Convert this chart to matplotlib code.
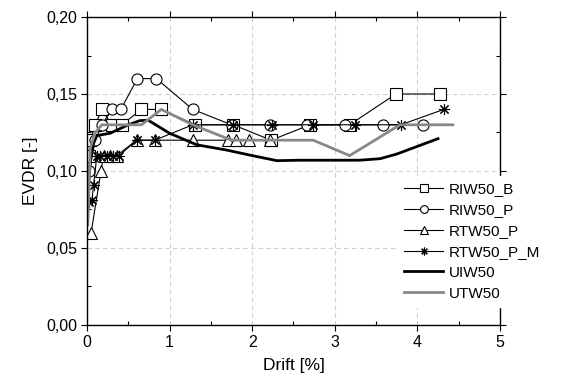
import matplotlib
matplotlib.use("Agg")
import matplotlib.pyplot as plt
from matplotlib.ticker import MultipleLocator, FuncFormatter

plt.rcParams['font.family'] = ['Liberation Sans', 'DejaVu Sans']

# Data
riw50_b_x = [0.02, 0.04, 0.10, 0.18, 0.30, 0.42, 0.66, 0.90, 1.31, 1.77, 2.23, 2.70, 3.18, 3.74, 4.27]
riw50_b_y = [0.11, 0.12, 0.13, 0.14, 0.13, 0.13, 0.14, 0.14, 0.13, 0.13, 0.12, 0.13, 0.13, 0.15, 0.15]

riw50_p_x = [0.03, 0.10, 0.18, 0.30, 0.41, 0.61, 0.84, 1.28, 1.75, 2.22, 2.66, 3.12, 3.58, 4.07]
riw50_p_y = [0.10, 0.12, 0.13, 0.14, 0.14, 0.16, 0.16, 0.14, 0.13, 0.13, 0.13, 0.13, 0.13, 0.13]

rtw50_p_x = [0.05, 0.17, 0.20, 0.28, 0.36, 0.60, 0.82, 1.28, 1.71, 1.80, 1.96, 2.22]
rtw50_p_y = [0.06, 0.10, 0.11, 0.11, 0.11, 0.12, 0.12, 0.12, 0.12, 0.12, 0.12, 0.12]

rtw50_pm_x = [0.03, 0.06, 0.08, 0.12, 0.16, 0.24, 0.32, 0.39, 0.60, 0.82, 1.28, 1.77, 2.24, 2.74, 3.24, 3.80, 4.32]
rtw50_pm_y = [0.08, 0.081, 0.091, 0.11, 0.11, 0.11, 0.11, 0.11, 0.12, 0.12, 0.13, 0.13, 0.13, 0.13, 0.13, 0.13, 0.14]

uiw50_x = [0.01, 0.05, 0.08, 0.12, 0.28, 0.50, 0.64, 0.74, 1.00, 1.33, 1.69, 2.00, 2.30, 2.58, 3.00, 3.30, 3.55, 3.75, 4.00, 4.25]
uiw50_y = [0.085, 0.112, 0.118, 0.123, 0.1245, 0.130, 0.1327, 0.133, 0.1245, 0.117, 0.1136, 0.110, 0.1067, 0.107, 0.107, 0.107, 0.108, 0.111, 0.116, 0.121]

utw50_x = [0.01, 0.04, 0.10, 0.18, 0.66, 0.90, 1.28, 1.75, 2.30, 2.74, 3.18, 3.79, 4.43]
utw50_y = [0.065, 0.115, 0.125, 0.13, 0.13, 0.14, 0.13, 0.12, 0.12, 0.12, 0.11, 0.13, 0.13]

x_ticks = [0, 1, 2, 3, 4, 5]
y_ticks = [0.00, 0.05, 0.10, 0.15, 0.20]

fig = plt.figure(figsize=(5.63, 3.9), dpi=100)
ax = fig.add_axes([0.1545, 0.1667, 0.7335, 0.7897])

ast = (8, 2, 0)
mk = dict(color='black', lw=0.8, markersize=8, markerfacecolor='white',
          markeredgecolor='black', markeredgewidth=0.8)
ax.plot(riw50_b_x, riw50_b_y, marker='s', label='RIW50_B', **mk)
ax.plot(riw50_p_x, riw50_p_y, marker='o', label='RIW50_P', **mk)
ax.plot(rtw50_p_x, rtw50_p_y, marker='^', label='RTW50_P', **mk)
ax.plot(rtw50_pm_x, rtw50_pm_y, marker=ast, label='RTW50_P_M', **mk)
ax.plot(uiw50_x, uiw50_y, color='black', lw=2, label='UIW50')
ax.plot(utw50_x, utw50_y, color='#888888', lw=2, label='UTW50')

ax.set_xlim(0, 5)
ax.set_ylim(0, 0.20)
ax.set_xticks(x_ticks)
ax.set_yticks(y_ticks)
ax.xaxis.set_minor_locator(MultipleLocator(0.5))
ax.yaxis.set_minor_locator(MultipleLocator(0.025))
ax.yaxis.set_major_formatter(FuncFormatter(lambda v, p: f"{v:.2f}".replace('.', ',')))
ax.tick_params(which='major', direction='out', length=4, labelsize=11.5, width=0.8, pad=3)
ax.tick_params(which='minor', direction='in', length=3, width=0.8)
ax.tick_params(which='both', top=True, right=True)
ax.grid(True, which='major', color='#d0d0d0', linestyle=(0, (4, 3)), lw=0.8)
ax.set_axisbelow(True)

for s in ax.spines.values():
    s.set_linewidth(1.0)

ax.set_xlabel('Drift [%]', fontsize=12.5, labelpad=6)
ax.set_ylabel('EVDR [-]', fontsize=12.5, labelpad=6)

leg = ax.legend(loc='center left', bbox_to_anchor=(0.752, 0.271), fontsize=11,
                frameon=True, facecolor='white', edgecolor='white', framealpha=1,
                fancybox=False, markerscale=0.7, handlelength=2.6, handletextpad=0.33,
                labelspacing=0.45, borderaxespad=0.0, borderpad=0.4)
leg.set_zorder(5)

fig.savefig('out.png', dpi=100)
